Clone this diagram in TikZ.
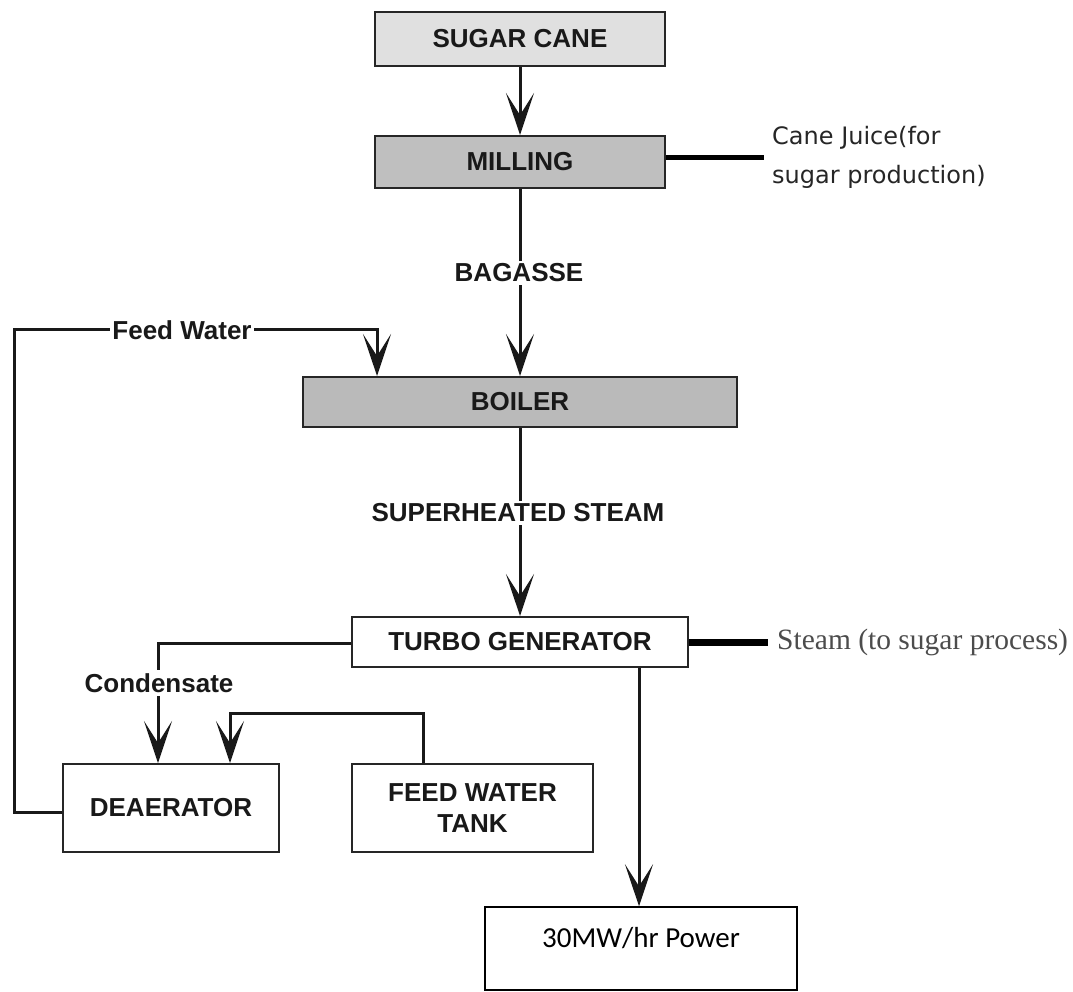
\documentclass[tikz,border=0pt]{standalone}
\usepackage{fontspec}
\setmainfont{Liberation Sans}
\newfontfamily\notefont{DejaVu Sans}
\newfontfamily\serifnote{Liberation Serif}
\newfontfamily\calfont{Carlito}
\usetikzlibrary{arrows.meta}

\tikzset{
  unit/.style={draw=black!85, line width=2pt, inner sep=0pt, minimum width=#1,
    font=\fontsize{26}{31}\selectfont\bfseries, text=black!90, align=center},
  tag/.style={fill=white, inner xsep=2pt, inner ysep=3pt,
    font=\fontsize{26}{31}\selectfont\bfseries, text=black!90},
  flow/.style={draw=black!90, line width=3pt,
    -{Stealth[length=42pt, width=28pt, inset=22pt]}},
  outlet/.style={draw=black, line width=#1}
}

\begin{document}
\begin{tikzpicture}[x=1pt, y=-1pt]
\useasboundingbox (0,0) rectangle (1073,991);

% process units
\node[unit=290pt, minimum height=54pt, fill=black!12] (cane) at (520,39) {SUGAR CANE};
\node[unit=290pt, minimum height=52pt, fill=black!25] (mill) at (520,162) {MILLING};
\node[unit=434pt, minimum height=50pt, fill=black!27] (boiler) at (520,402) {BOILER};
\node[unit=336pt, minimum height=50pt, fill=white] (tg) at (520,642) {TURBO GENERATOR};
\node[unit=216pt, minimum height=88pt, fill=white] (deaer) at (171,808) {DEAERATOR};
\node[unit=241pt, minimum height=88pt, fill=white] (tank) at (472.5,808) {FEED WATER\\TANK};
\node[draw=black, line width=1.5pt, minimum width=312pt, minimum height=83pt, inner sep=0pt] (power) at (641,948.5) {};
\node[font=\calfont\fontsize{29}{34}\selectfont] (powertext) at (641,938) {30MW/hr Power};

% side outputs
\node[anchor=west, inner xsep=8pt, align=left,
      font=\notefont\fontsize{24}{39}\selectfont, text=black!85] (juice) at (764,157.5)
      {Cane Juice(for\\sugar production)};
\draw[outlet=5pt] ([yshift=5pt]mill.east) -- ([yshift=5pt]mill.east -| juice.west);

\node[anchor=west, inner xsep=9pt, font=\serifnote\fontsize{29.5}{34}\selectfont, text=black!70]
      (steam) at (768,642) {Steam (to sugar process)};
\draw[outlet=7pt] (tg.east) -- (steam.west);

% main line
\draw[flow] (cane) -- (mill);
\draw[flow] (mill) -- (boiler);
\node[tag] (bagasse) at (519,273) {BAGASSE};
\draw[flow] (boiler) -- (tg);
\node[tag] (sh) at (518,513) {SUPERHEATED STEAM};

% feed water return from the deaerator to the boiler
\coordinate (loopL) at (14,329);
\coordinate (feedDrop) at (377,329);
\draw[flow] ([yshift=-4pt]deaer.west) -| (loopL) -- (feedDrop) -- (feedDrop |- boiler.north);
\node[tag] (fwlabel) at (182,330) {Feed Water};

% condensate from the turbo generator
\coordinate (condBend) at (158,643);
\draw[flow] (tg.west |- condBend) -- (condBend) -- (condBend |- deaer.north);
\node[tag] (cond) at (159,683) {Condensate};

% make-up water from the tank
\coordinate (tankUp) at (423,713);
\coordinate (tankDrop) at (230,713);
\draw[flow] (tankUp |- tank.north) -- (tankUp) -- (tankDrop) -- (tankDrop |- deaer.north);

% electrical output
\coordinate (pwrX) at (639,0);
\draw[flow] (tg.south -| pwrX) -- (power.north -| pwrX);
\end{tikzpicture}
\end{document}
